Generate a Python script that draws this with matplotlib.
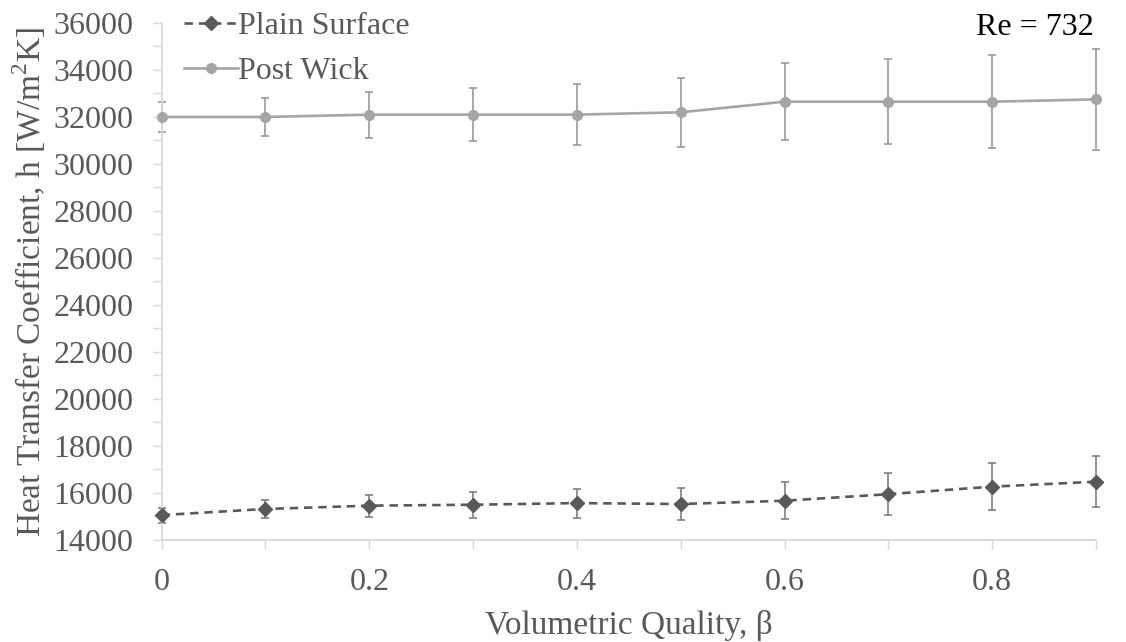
import matplotlib
matplotlib.use("Agg")
import matplotlib.pyplot as plt
from matplotlib.ticker import MultipleLocator, FormatStrFormatter

# Volumetric quality
beta = [0.0, 0.1, 0.2, 0.3, 0.4, 0.5, 0.6, 0.7, 0.8, 0.9]

# Heat transfer coefficient [W/m^2K] and uncertainty
plain_h = [15060, 15320, 15460, 15500, 15570, 15530, 15670, 15950, 16270, 16480]
plain_err = [320, 390, 470, 550, 620, 690, 790, 890, 985, 1080]

wick_h = [32000, 32000, 32100, 32100, 32100, 32200, 32650, 32650, 32650, 32750]
wick_err = [650, 800, 980, 1130, 1290, 1460, 1640, 1800, 1990, 2140]

x_ticks = [0, 0.2, 0.4, 0.6, 0.8]
y_ticks = list(range(14000, 36001, 2000))

plt.rcParams["font.family"] = "serif"
plt.rcParams["font.serif"] = ["Liberation Serif", "DejaVu Serif"]
plt.rcParams["mathtext.fontset"] = "custom"
plt.rcParams["mathtext.rm"] = "Liberation Serif"

text_gray = "#595959"
axis_gray = "#d9d9d9"
fs = 23
fs_lab = 24

fig = plt.figure(figsize=(11.26, 6.42), dpi=100)
ax = fig.add_axes([0.1436, 0.1589, 0.8297, 0.8053])

# error bars
ax.errorbar(beta, plain_h, yerr=plain_err, fmt="none", ecolor="#7f7f7f",
            elinewidth=1.2, capsize=3, capthick=1.2, zorder=2, clip_on=False)
ax.errorbar(beta, wick_h, yerr=wick_err, fmt="none", ecolor="#9a9a9a",
            elinewidth=1.2, capsize=3, capthick=1.2, zorder=2, clip_on=False)

# series lines
ax.plot(beta, plain_h, color="#595959", linestyle=(0, (3.2, 2.2)),
        linewidth=1.9, marker="D", markersize=7.5, label="Plain Surface",
        zorder=3, clip_on=False)
ax.plot(beta, wick_h, color="#a5a5a5", linestyle="-",
        linewidth=1.9, marker="o", markersize=7, label="Post Wick",
        zorder=3, clip_on=False)

ax.set_xlim(0, 0.9)
ax.set_ylim(14000, 36000)
ax.set_xticks(x_ticks)
ax.xaxis.set_major_formatter(FormatStrFormatter("%g"))
ax.xaxis.set_minor_locator(MultipleLocator(0.1))
ax.set_yticks(y_ticks)
ax.yaxis.set_minor_locator(MultipleLocator(1000))

for s in ["top", "right"]:
    ax.spines[s].set_visible(False)
for s in ["left", "bottom"]:
    ax.spines[s].set_color(axis_gray)
    ax.spines[s].set_linewidth(1.3)

ax.tick_params(axis="both", which="both", direction="out", length=6.5,
               width=1.0, color=axis_gray, labelcolor=text_gray, labelsize=fs)
ax.tick_params(axis="y", which="both", pad=14)
ax.tick_params(axis="x", which="both", pad=14)

ax.set_xlabel("Volumetric Quality, β", fontsize=fs_lab, color=text_gray, labelpad=9)
ax.set_ylabel("Heat Transfer Coefficient, h [W/m$^2$K]", fontsize=fs_lab,
              color=text_gray, labelpad=4)

ax.text(0.998, 0.992, "Re = 732", transform=ax.transAxes, ha="right", va="center",
        fontsize=fs, color="black")

leg = ax.legend(loc="upper left", bbox_to_anchor=(0.0, 1.065), frameon=False,
                fontsize=fs, handlelength=1.7, handletextpad=0.0,
                labelspacing=0.5, borderaxespad=0.3)
for t in leg.get_texts():
    t.set_color(text_gray)

fig.savefig("out.png", dpi=100)
